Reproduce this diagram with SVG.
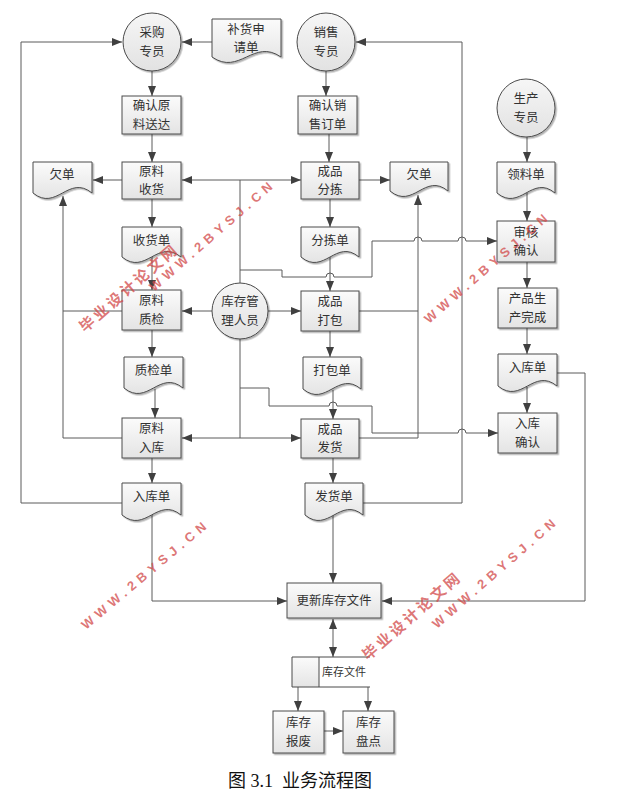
<svg xmlns="http://www.w3.org/2000/svg" width="621" height="803" viewBox="0 0 621 803">
<style>
.ln{fill:none;stroke:#5a5a5a;stroke-width:1}
.ar{marker-end:url(#a)}
.box{fill:url(#gb);stroke:#4a4a4a;stroke-width:1;filter:url(#sh)}
.doc{fill:url(#gb);stroke:#4a4a4a;stroke-width:1;filter:url(#sh)}
.cir{fill:url(#gc);stroke:#4a4a4a;stroke-width:1;filter:url(#sh)}
.t{font-family:"Noto Sans CJK SC","Noto Sans",sans-serif;font-size:12.5px;fill:#333;text-anchor:middle}
.ts{font-family:"Noto Sans CJK SC","Noto Sans",sans-serif;font-size:11px;fill:#333}
.wm{font-family:"Liberation Sans",Arial,sans-serif;font-weight:bold;font-size:13px;letter-spacing:5px;fill:#d24a4a;fill-opacity:0.75}
.wc{font-family:"Noto Sans CJK SC",sans-serif;font-weight:bold;font-size:15px;letter-spacing:3px;fill:#d24a4a;fill-opacity:0.75}
.cap{font-family:"Liberation Serif","Noto Sans CJK SC",serif;font-size:18px;fill:#111}
</style>
<defs>
<linearGradient id="gb" x1="0" y1="0" x2="0" y2="1"><stop offset="0" stop-color="#fbfbfb"/><stop offset="1" stop-color="#e4e4e4"/></linearGradient>
<linearGradient id="gc" x1="0" y1="0" x2="0" y2="1"><stop offset="0" stop-color="#f6f6f6"/><stop offset="1" stop-color="#e2e2e2"/></linearGradient>
<filter id="sh" x="-10%" y="-10%" width="130%" height="130%"><feDropShadow dx="1.5" dy="1.5" stdDeviation="0.7" flood-color="#000" flood-opacity="0.3"/></filter>
<marker id="a" viewBox="0 0 10 8" refX="10" refY="4" markerWidth="10" markerHeight="8" markerUnits="userSpaceOnUse" orient="auto-start-reverse"><path d="M0,0 L10,4 L0,8 z" fill="#404040"/></marker>
</defs>
<rect width="621" height="803" fill="#fff"/>

<g id="connectors">
<path class="ln ar" d="M212,42 H182"/>
<path class="ln ar" d="M122,503 H21 V42 H122"/>
<path class="ln ar" d="M152,71 V96"/>
<path class="ln ar" d="M152,134 V162"/>
<path class="ln ar" d="M122,180 H93"/>
<path class="ln ar" d="M152,199 V227"/>
<path class="ln ar" d="M152,257 V290"/>
<path class="ln ar" d="M152,330 V357"/>
<path class="ln ar" d="M155,389 V418"/>
<path class="ln ar" d="M152,458 V483"/>
<path class="ln ar" d="M152,515 V601 H287"/>
<path class="ln" d="M240,180 V438"/>
<path class="ln ar" style="marker-start:url(#a)" d="M182,180 H301"/>
<path class="ln ar" style="marker-start:url(#a)" d="M182,438 H301"/>
<path class="ln ar" d="M212,311 H182"/>
<path class="ln ar" d="M268,311 H301"/>
<path class="ln" d="M122,311 H63"/>
<path class="ln ar" d="M122,438 H63 V196"/>
<path class="ln ar" d="M326,71 V96"/>
<path class="ln ar" d="M329,134 V162"/>
<path class="ln ar" d="M359,180 H390"/>
<path class="ln ar" d="M330,199 V227"/>
<path class="ln ar" d="M330,257 V291"/>
<path class="ln ar" d="M330,331 V357"/>
<path class="ln ar" d="M333,390 V419"/>
<path class="ln" d="M359,311 H418"/>
<path class="ln ar" d="M359,438 H418 V195"/>
<path class="ln ar" d="M333,458 V483"/>
<path class="ln ar" d="M363,503 H462 V42 H356"/>
<path class="ln ar" d="M333,515 V583"/>
<path class="ln ar" d="M240,270 H282 V277 H326 a4,4 0 0 1 8,0 H372 V241 H414 a4,4 0 0 1 8,0 H458 a4,4 0 0 1 8,0 H497"/>
<path class="ln ar" d="M240,388 H269 V406 H329 a4,4 0 0 1 8,0 H372 V433 H458 a4,4 0 0 1 8,0 H498"/>
<path class="ln ar" d="M527,137 V162"/>
<path class="ln ar" d="M527,193 V221"/>
<path class="ln ar" d="M527,262 V288"/>
<path class="ln ar" d="M527,328 V354"/>
<path class="ln ar" d="M527,387 V413"/>
<path class="ln ar" d="M557,373 H585 V601 H382"/>
<path class="ln ar" style="marker-start:url(#a)" d="M333,619 V657"/>
<path class="ln ar" d="M298,687 V711"/>
<path class="ln ar" d="M368,687 V711"/>
<path class="ln ar" d="M324,731 H343"/>
</g>

<g id="n_caigou"><circle class="cir" cx="152" cy="42" r="29"/><text class="t" x="152" y="37.3">采购</text><text class="t" x="152" y="55.5">专员</text></g>
<g id="n_buhuo"><path class="doc" d="M212,19 H281 V57 C253.4,38 239.6,76 212,57 Z"/><text class="t" x="246" y="33.5">补货申</text><text class="t" x="246" y="51.7">请单</text></g>
<g id="n_xiaoshou"><circle class="cir" cx="326" cy="42" r="29"/><text class="t" x="326" y="37.3">销售</text><text class="t" x="326" y="55.5">专员</text></g>
<g id="n_shengchan"><circle class="cir" cx="526" cy="108" r="29"/><text class="t" x="526" y="103.3">生产</text><text class="t" x="526" y="121.5">专员</text></g>
<g id="n_querenyl"><rect class="box" x="122" y="96" width="59" height="38"/><text class="t" x="151.5" y="110.3">确认原</text><text class="t" x="151.5" y="128.5">料送达</text></g>
<g id="n_shouhuo"><rect class="box" x="122" y="162" width="59" height="37"/><text class="t" x="151.5" y="175.8">原料</text><text class="t" x="151.5" y="194">收货</text></g>
<g id="n_qiandanL"><path class="doc" d="M33,162 H92 V193 C68.4,174 56.6,212 33,193 Z"/><text class="t" x="62" y="179">欠单</text></g>
<g id="n_shouhuodan"><path class="doc" d="M122,227 H181 V257 C157.4,238 145.6,276 122,257 Z"/><text class="t" x="151.5" y="245">收货单</text></g>
<g id="n_zhijian"><rect class="box" x="122" y="290" width="59" height="40"/><text class="t" x="151.5" y="305.3">原料</text><text class="t" x="151.5" y="323.5">质检</text></g>
<g id="n_zhijiandan"><path class="doc" d="M124,357 H183 V388 C159.4,369 147.6,407 124,388 Z"/><text class="t" x="153.5" y="375">质检单</text></g>
<g id="n_ruku"><rect class="box" x="122" y="418" width="59" height="40"/><text class="t" x="151.5" y="433.3">原料</text><text class="t" x="151.5" y="451.5">入库</text></g>
<g id="n_rukudanL"><path class="doc" d="M122,483 H181 V515 C157.4,496 145.6,534 122,515 Z"/><text class="t" x="151.5" y="501">入库单</text></g>
<g id="n_kucunren"><circle class="cir" cx="240" cy="311" r="28"/><text class="t" x="240" y="306.3">库存管</text><text class="t" x="240" y="324.5">理人员</text></g>
<g id="n_querenxs"><rect class="box" x="298" y="96" width="59" height="38"/><text class="t" x="327.5" y="110.3">确认销</text><text class="t" x="327.5" y="128.5">售订单</text></g>
<g id="n_fenjian"><rect class="box" x="301" y="162" width="58" height="37"/><text class="t" x="330" y="175.8">成品</text><text class="t" x="330" y="194">分拣</text></g>
<g id="n_qiandanR"><path class="doc" d="M390,162 H448 V191 C424.8,172 413.2,210 390,191 Z"/><text class="t" x="419" y="179">欠单</text></g>
<g id="n_fenjiandan"><path class="doc" d="M301,227 H359 V257 C335.8,238 324.2,276 301,257 Z"/><text class="t" x="330" y="245">分拣单</text></g>
<g id="n_dabao"><rect class="box" x="301" y="291" width="58" height="40"/><text class="t" x="330" y="306.3">成品</text><text class="t" x="330" y="324.5">打包</text></g>
<g id="n_dabaodan"><path class="doc" d="M303,357 H361 V389 C337.8,370 326.2,408 303,389 Z"/><text class="t" x="332" y="375">打包单</text></g>
<g id="n_fahuo"><rect class="box" x="301" y="419" width="58" height="39"/><text class="t" x="330" y="433.8">成品</text><text class="t" x="330" y="452">发货</text></g>
<g id="n_fahuodan"><path class="doc" d="M305,483 H363 V515 C339.8,496 328.2,534 305,515 Z"/><text class="t" x="334" y="501">发货单</text></g>
<g id="n_lingliao"><path class="doc" d="M497,162 H555 V193 C531.8,174 520.2,212 497,193 Z"/><text class="t" x="526" y="179">领料单</text></g>
<g id="n_shenhe"><rect class="box" x="497" y="221" width="58" height="41"/><text class="t" x="526" y="236.8">审核</text><text class="t" x="526" y="255">确认</text></g>
<g id="n_wancheng"><rect class="box" x="498" y="288" width="59" height="40"/><text class="t" x="527.5" y="303.3">产品生</text><text class="t" x="527.5" y="321.5">产完成</text></g>
<g id="n_rukudanR"><path class="doc" d="M498,354 H557 V386 C533.4,367 521.6,405 498,386 Z"/><text class="t" x="527.5" y="372">入库单</text></g>
<g id="n_rukuqr"><rect class="box" x="498" y="413" width="59" height="40"/><text class="t" x="527.5" y="428.3">入库</text><text class="t" x="527.5" y="446.5">确认</text></g>
<g id="n_gengxin"><rect class="box" x="287" y="583" width="94" height="35"/><text class="t" x="334" y="605">更新库存文件</text></g>
<g id="n_kucunwj"><rect x="292" y="657" width="76" height="30" fill="#fff"/><rect x="292" y="657" width="27" height="30" fill="url(#gb)"/><path class="ln" style="stroke:#4a4a4a" d="M370,657 H292 V687 H370 M319,657 V687"/><text class="ts" x="322" y="676">库存文件</text></g>
<g id="n_baofei"><rect class="box" x="273" y="711" width="51" height="42"/><text class="t" x="298.5" y="727.3">库存</text><text class="t" x="298.5" y="745.5">报废</text></g>
<g id="n_pandian"><rect class="box" x="343" y="711" width="51" height="42"/><text class="t" x="368.5" y="727.3">库存</text><text class="t" x="368.5" y="745.5">盘点</text></g>

<text class="cap" x="228" y="787" xml:space="preserve">图 3.1  业务流程图</text>

<g id="watermarks">
<text class="wc" transform="translate(85,333) rotate(-41)">毕业设计论文网</text>
<text class="wm" transform="translate(154,292) rotate(-41)">WWW.2BYSJ.CN</text>
<text class="wm" transform="translate(429,324) rotate(-41)">WWW.2BYSJ.CN</text>
<text class="wm" transform="translate(86,630) rotate(-40)">WWW.2BYSJ.CN</text>
<text class="wc" transform="translate(368,661) rotate(-41)">毕业设计论文网</text>
<text class="wm" transform="translate(437,629) rotate(-41)">WWW.2BYSJ.CN</text>
</g>
</svg>
